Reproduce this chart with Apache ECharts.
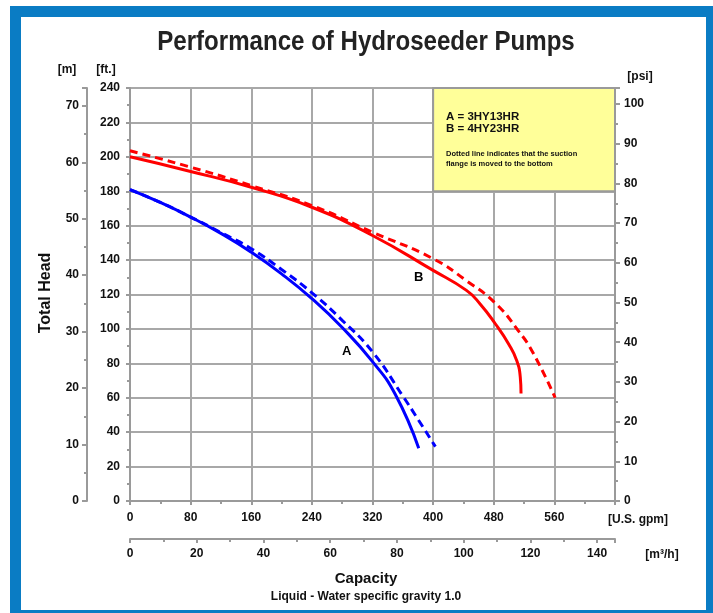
<!DOCTYPE html>
<html>
<head>
<meta charset="utf-8">
<script src="https://cdn.jsdelivr.net/npm/echarts@6/dist/echarts.min.js"></script>
<style>
  html, body { margin: 0; padding: 0; background: #fff; }
  #chart { width: 713px; height: 613px; }
</style>
</head>
<body>
<div id="chart"></div>
<script>
// pump curves, capacity in U.S. gpm, head in ft
const curveAGpm = [0, 40, 80, 120, 160, 200, 240, 280, 320, 350, 381]
const curveAFt = [181, 173.5, 165, 155.5, 144.6, 132, 117.6, 100.8, 81, 62, 30.7]
const curveADashGpm = [0, 40, 80, 120, 160, 200, 240, 280, 320, 360, 380, 403]
const curveADashFt = [181, 173.5, 165, 156, 146.6, 134.5, 121, 105, 86.7, 61, 47.5, 31.6]
const curveBGpm = [0, 80, 160, 240, 320, 400, 444, 462, 482, 500, 510, 515, 516]
const curveBFt = [200, 191.5, 182.3, 170.7, 154.3, 134, 122.4, 114.5, 103, 91, 82, 72, 62.5]
const curveBDashGpm = [0, 80, 160, 240, 320, 400, 444, 482, 512, 532, 561]
const curveBDashFt = [203.5, 194, 183.3, 171.7, 156.2, 140.8, 128, 115, 99.2, 86, 60]

const labelNames = ['A', 'B']
const labelGpm = [286, 381]
const labelFt = [86.7, 130]

const legendLines = ['A = 3HY13HR', 'B = 4HY23HR']
const noteLines = ['Dotted line indicates that the suction', 'flange is moved to the bottom']

// axis ranges
const gpmMax = 640
const ftMax = 240
const m3hPerGpm = 0.22712
const mPerFt = 0.3048
const ftPerPsi = 2.3067

const pair = (xs, ys) => xs.map((x, i) => [x, ys[i]])

const chart = echarts.init(document.getElementById('chart'))

const font = 'Liberation Sans, Arial, sans-serif'
const gray = '#9a9a9a'
const labelStyle = { color: '#111', fontWeight: 'bold', fontSize: 12, fontFamily: font }

function txt(text, x, y, size, align, extra) {
  return {
    type: 'text', x: x, y: y, z: 100,
    style: Object.assign({
      text: text, fill: '#111', font: 'bold ' + size + 'px ' + font,
      textAlign: align || 'center', textVerticalAlign: 'middle'
    }, extra || {})
  }
}

function axisBase(extra) {
  return Object.assign({
    type: 'value',
    axisLine: { show: true, onZero: false, lineStyle: { color: gray, width: 2 } },
    axisTick: { show: true, length: 4, lineStyle: { color: gray, width: 2 } },
    minorTick: { show: true, splitNumber: 2, length: 3, lineStyle: { color: gray, width: 2 } },
    splitLine: { show: false }
  }, extra)
}

const option = {
  animation: false,
  grid: { left: 130, right: 98, top: 88, bottom: 112 },
  xAxis: [
    axisBase({
      min: 0, max: gpmMax, interval: 80, position: 'bottom',
      splitLine: { show: true, lineStyle: { color: '#a8a8a8', width: 2 } },
      axisLabel: Object.assign({ margin: 11, showMaxLabel: false }, labelStyle)
    }),
    axisBase({
      min: 0, max: gpmMax * m3hPerGpm, interval: 20, position: 'bottom', offset: 38,
      axisLabel: Object.assign({ margin: 9, showMaxLabel: false }, labelStyle)
    })
  ],
  yAxis: [
    axisBase({
      min: 0, max: ftMax, interval: 20, position: 'left',
      splitLine: { show: true, lineStyle: { color: '#a8a8a8', width: 2 } },
      axisLabel: Object.assign({ margin: 10 }, labelStyle)
    }),
    axisBase({
      min: 0, max: ftMax * mPerFt, interval: 10, position: 'left', offset: 43,
      axisTick: { show: true, length: 5, lineStyle: { color: gray, width: 2 } },
      axisLabel: Object.assign({ margin: 8, showMaxLabel: false }, labelStyle)
    }),
    axisBase({
      min: 0, max: ftMax / ftPerPsi, interval: 10, position: 'right',
      axisTick: { show: true, length: 5, lineStyle: { color: gray, width: 2 } },
      axisLabel: Object.assign({ margin: 9, showMaxLabel: false }, labelStyle)
    })
  ],
  series: [
    {
      type: 'line', name: 'A', data: pair(curveAGpm, curveAFt),
      smooth: 0.5, symbol: 'none',
      lineStyle: { color: '#0000ff', width: 3 },
      markArea: {
        silent: true,
        itemStyle: { color: '#ffff99', borderColor: gray, borderWidth: 2, opacity: 1 },
        data: [[{ coord: [400, ftMax] }, { coord: [gpmMax, 180] }]]
      }
    },
    {
      type: 'line', name: 'A dotted', data: pair(curveADashGpm, curveADashFt),
      smooth: 0.5, symbol: 'none',
      lineStyle: { color: '#0000ff', width: 3, type: [8, 5] }
    },
    {
      type: 'line', name: 'B', data: pair(curveBGpm, curveBFt),
      smooth: 0.5, symbol: 'none',
      lineStyle: { color: '#ff0000', width: 3 }
    },
    {
      type: 'line', name: 'B dotted', data: pair(curveBDashGpm, curveBDashFt),
      smooth: 0.5, symbol: 'none',
      lineStyle: { color: '#ff0000', width: 3, type: [8, 5] }
    },
    {
      type: 'scatter', symbolSize: 2, silent: true,
      itemStyle: { color: '#fff', opacity: 1 },
      data: labelNames.map((n, i) => ({ name: n, value: [labelGpm[i], labelFt[i]] })),
      label: {
        show: true, position: 'inside', formatter: '{b}', opacity: 1,
        textBorderWidth: 0, color: '#000', fontWeight: 'bold', fontSize: 13, fontFamily: font
      },
      z: 10
    }
  ],
  graphic: [
    {
      type: 'rect', z: 100, silent: true,
      shape: { x: 15.5, y: 11.5, width: 696, height: 604 },
      style: { fill: null, stroke: '#0a7cc4', lineWidth: 11 }
    },
    Object.assign(txt('Performance of Hydroseeder Pumps', 366, 42, 28, 'center',
      { font: 'bold 28px "Liberation Sans", Arial, sans-serif', fill: '#222' }), { scaleX: 0.86 }),
    txt('[m]', 67, 70, 12),
    txt('[ft.]', 106, 70, 12),
    txt('[psi]', 640, 77, 12),
    txt('[U.S. gpm]', 638, 520, 12),
    txt('[m³/h]', 662, 555, 12),
    txt('Capacity', 366, 579, 15),
    txt('Liquid - Water specific gravity 1.0', 366, 597, 12),
    Object.assign(txt('Total Head', 46, 293, 16), { rotation: Math.PI / 2 }),
    txt(legendLines[0], 446, 117, 11.5, 'left'),
    txt(legendLines[1], 446, 129, 11.5, 'left'),
    txt(noteLines[0], 446, 154, 7.5, 'left'),
    txt(noteLines[1], 446, 164, 7.5, 'left')
  ]
}

chart.setOption(option)
</script>
</body>
</html>
